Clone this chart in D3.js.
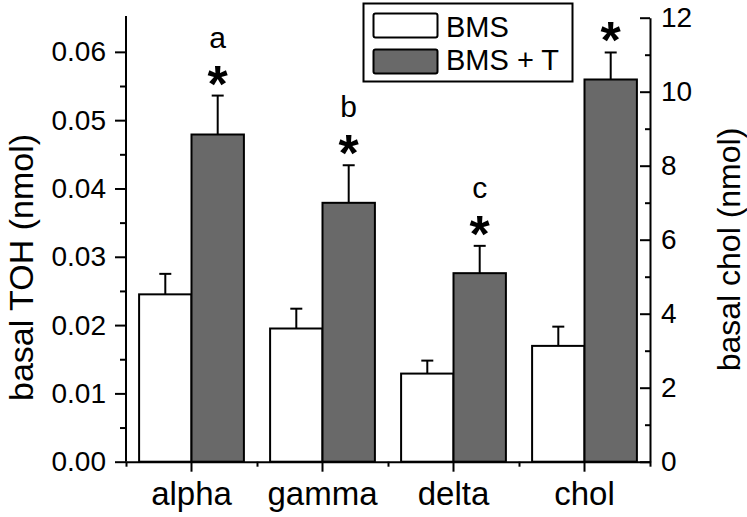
<!DOCTYPE html>
<html>
<head>
<meta charset="utf-8">
<script src="https://cdn.jsdelivr.net/npm/d3@7"></script>
<style>
  html, body { margin: 0; padding: 0; background: #fff; }
  svg { display: block; font-family: "Liberation Sans", Arial, sans-serif; }
</style>
</head>
<body>
<svg id="chart" width="747" height="517"></svg>
<script>
// ---- data ----
const categories = ["alpha", "gamma", "delta", "chol"];
const seriesNames = ["BMS", "BMS + T"];
const axisOf = ["left", "left", "left", "right"];
const bmsMean = [0.0245, 0.0195, 0.0129, 3.13];
const bmsErr  = [0.0030, 0.0029, 0.0019, 0.52];
const tMean   = [0.0479, 0.0379, 0.0276, 10.33];
const tErr    = [0.0057, 0.0055, 0.0040, 0.73];
const letters = ["a", "b", "c", ""];
const stars   = [true, true, true, true];
const leftTicks  = [0, 0.01, 0.02, 0.03, 0.04, 0.05, 0.06];
const leftMinor  = [0.005, 0.015, 0.025, 0.035, 0.045, 0.055];
const rightTicks = [0, 2, 4, 6, 8, 10, 12];
const rightMinor = [1, 3, 5, 7, 9, 11];
const yLeftLabel = "basal TOH (nmol)";
const yRightLabel = "basal chol (nmol)";

const svg = d3.select("#chart");
const X0 = 126, X1 = 650, Y0 = 461.7, Y1 = 17.7;
const font = '"Liberation Sans", Arial, sans-serif';

const x = d3.scaleBand().domain(categories).range([X0, X1]).padding(0);
const xs = d3.scaleBand().domain(seriesNames).range([0, x.bandwidth()]).paddingInner(0).paddingOuter(0.25);
const yL = d3.scaleLinear().domain([0, 0.065]).range([Y0, Y1]);
const yR = d3.scaleLinear().domain([0, 12]).range([Y0, Y1]);
const yFor = i => axisOf[i] === "left" ? yL : yR;
const fills = ["#ffffff", "#696969"];

const rows = [];
categories.forEach((c, i) => {
  rows.push({c, i, s: 0, m: bmsMean[i], e: bmsErr[i]});
  rows.push({c, i, s: 1, m: tMean[i], e: tErr[i]});
});

// error bars
const eg = svg.append("g").attr("stroke", "#000").attr("stroke-width", 2);
rows.forEach(r => {
  const y = yFor(r.i);
  const cx = x(r.c) + xs(seriesNames[r.s]) + xs.bandwidth() / 2;
  eg.append("line").attr("x1", cx).attr("x2", cx).attr("y1", y(r.m)).attr("y2", y(r.m + r.e));
  eg.append("line").attr("x1", cx - 6).attr("x2", cx + 6).attr("y1", y(r.m + r.e)).attr("y2", y(r.m + r.e));
});

// bars
svg.append("g").selectAll("rect").data(rows).join("rect")
  .attr("x", d => x(d.c) + xs(seriesNames[d.s]))
  .attr("width", xs.bandwidth())
  .attr("y", d => yFor(d.i)(d.m))
  .attr("height", d => Y0 - yFor(d.i)(d.m))
  .attr("fill", d => fills[d.s])
  .attr("stroke", "#000")
  .attr("stroke-width", 2);

// annotations
categories.forEach((c, i) => {
  const y = yFor(i);
  const top = y(tMean[i] + tErr[i]);
  const cx = x(c) + xs(seriesNames[1]) + xs.bandwidth() / 2;
  if (stars[i]) {
    svg.append("text").attr("x", cx).attr("y", top + 6).attr("text-anchor", "middle")
      .attr("font-family", font).attr("font-weight", "bold").attr("font-size", 52).text("*");
  }
  if (letters[i]) {
    svg.append("text").attr("x", cx).attr("y", top - 48).attr("text-anchor", "middle")
      .attr("font-family", font).attr("font-size", 30).text(letters[i]);
  }
});

function styleAxis(g, fs) {
  g.select(".domain").attr("stroke-width", 2);
  g.selectAll(".tick line").attr("stroke-width", 2);
  g.selectAll("text").attr("font-family", font).attr("font-size", fs).attr("fill", "#000");
}

// left axis
const gL = svg.append("g").attr("transform", `translate(${X0},0)`);
gL.call(d3.axisLeft(yL).tickValues(leftTicks).tickFormat(d3.format(".2f")).tickSizeInner(11).tickSizeOuter(0).tickPadding(9));
styleAxis(gL, 28);
gL.select(".domain").attr("d", `M0,${Y0}V${16}`);
const gLm = svg.append("g").attr("transform", `translate(${X0},0)`);
gLm.call(d3.axisLeft(yL).tickValues(leftMinor).tickFormat("").tickSizeInner(6).tickSizeOuter(0));
gLm.select(".domain").remove();
styleAxis(gLm, 28);

// right axis (ticks pointing inward)
const gR = svg.append("g").attr("transform", `translate(${X1},0)`);
gR.call(d3.axisRight(yR).tickValues(rightTicks).tickSizeInner(-10).tickSizeOuter(0).tickPadding(10));
styleAxis(gR, 28);
gR.selectAll(".tick text").attr("x", 11);
const gRm = svg.append("g").attr("transform", `translate(${X1},0)`);
gRm.call(d3.axisRight(yR).tickValues(rightMinor).tickFormat("").tickSizeInner(-5).tickSizeOuter(0));
gRm.select(".domain").remove();
styleAxis(gRm, 28);

// bottom axis
const gB = svg.append("g").attr("transform", `translate(0,${Y0})`);
gB.call(d3.axisBottom(x).tickSizeInner(10).tickSizeOuter(0).tickPadding(10));
styleAxis(gB, 33);
const xb = d3.scaleLinear().domain([0, categories.length]).range([X0, X1]);
const gBm = svg.append("g").attr("transform", `translate(0,${Y0})`);
gBm.call(d3.axisBottom(xb).tickValues(d3.range(categories.length + 1)).tickFormat("").tickSizeInner(5).tickSizeOuter(0));
gBm.select(".domain").remove();
styleAxis(gBm, 33);

// axis titles
svg.append("text").attr("transform", `translate(33,${267.5}) rotate(-90)`)
  .attr("text-anchor", "middle").attr("font-family", font).attr("font-size", 34).text(yLeftLabel);
svg.append("text").attr("transform", `translate(740,${249.5}) rotate(-90)`)
  .attr("text-anchor", "middle").attr("font-family", font).attr("font-size", 32).text(yRightLabel);

// legend
const lg = svg.append("g");
lg.append("rect").attr("x", 363.5).attr("y", 3.5).attr("width", 209).attr("height", 78)
  .attr("fill", "#fff").attr("stroke", "#000").attr("stroke-width", 2);
seriesNames.forEach((s, i) => {
  const yy = [13.5, 49.5][i];
  lg.append("rect").attr("x", 373.5).attr("y", yy).attr("width", 64).attr("height", 24)
    .attr("rx", 2).attr("fill", fills[i]).attr("stroke", "#000").attr("stroke-width", 2);
  lg.append("text").attr("x", 446).attr("y", [36.7, 70][i]).attr("font-family", font)
    .attr("font-size", 29).text(s);
});
</script>
</body>
</html>
